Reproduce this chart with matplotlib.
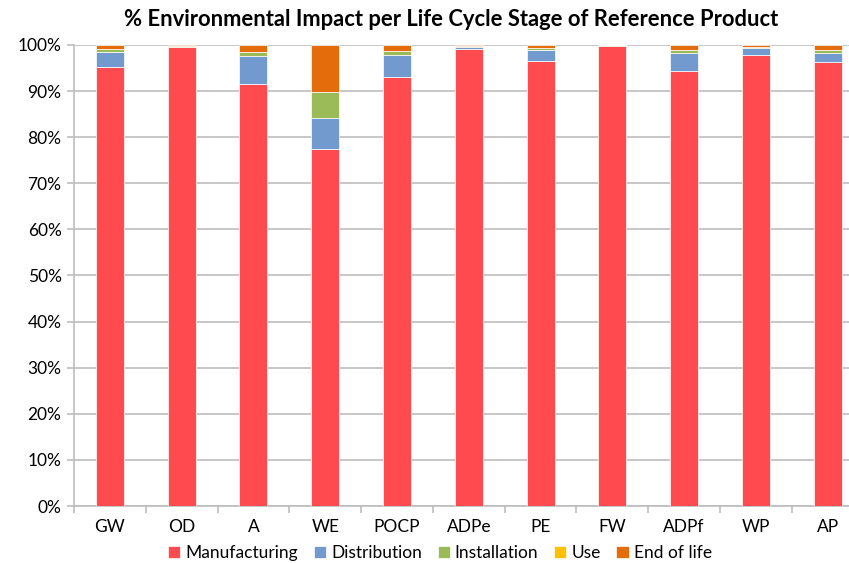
import numpy as np
import matplotlib
matplotlib.use("Agg")
import matplotlib.pyplot as plt
import matplotlib.ticker as mticker

# --- data (share of impact per life cycle stage, %) ---
categories = ["GW", "OD", "A", "WE", "POCP", "ADPe", "PE", "FW", "ADPf", "WP", "AP"]
manufacturing = [95.3, 99.5, 91.5, 77.4, 93.1, 99.1, 96.5, 99.8, 94.4, 97.8, 96.3]
distribution = [3.2, 0.1, 6.0, 6.8, 4.7, 0.4, 2.3, 0.0, 3.9, 1.6, 1.9]
installation = [0.6, 0.1, 1.0, 5.5, 0.8, 0.3, 0.5, 0.1, 0.6, 0.2, 0.6]
use = [0.1, 0.0, 0.0, 0.0, 0.0, 0.0, 0.0, 0.0, 0.1, 0.0, 0.0]
end_of_life = [0.8, 0.3, 1.5, 10.3, 1.4, 0.2, 0.7, 0.1, 1.0, 0.4, 1.2]

stages = [
    ("Manufacturing", manufacturing, "#FF4B4F"),
    ("Distribution", distribution, "#729ACF"),
    ("Installation", installation, "#9BBB59"),
    ("Use", use, "#FFC000"),
    ("End of life", end_of_life, "#E46C0A"),
]

plt.rcParams["font.family"] = ["Lato", "DejaVu Sans"]

fig = plt.figure(figsize=(8.49, 5.63), dpi=100)
ax = fig.add_axes([0.0872, 0.1012, 0.930, 0.819])

x = np.arange(len(categories))
bottom = np.zeros(len(categories))
for name, vals, color in stages:
    vals = np.array(vals)
    ax.bar(x, vals, width=0.39, bottom=bottom, color=color, label=name,
           edgecolor="white", linewidth=0.5, zorder=3)
    bottom += vals

ax.set_xlim(-0.5, len(categories) - 0.5)
ax.set_ylim(0, 100)
ax.yaxis.set_major_locator(mticker.MultipleLocator(10))
ax.yaxis.set_major_formatter(mticker.FuncFormatter(lambda v, p: f"{v:.0f}%"))
ax.grid(axis="y", color="#BDBDBD", linewidth=1.2, zorder=0)

ax.set_xticks(x)
ax.set_xticklabels(categories)
ax.set_xticks(np.arange(-0.5, len(categories)), minor=True)
ax.tick_params(axis="x", which="major", length=0, pad=9, labelsize=12.5)
ax.tick_params(axis="x", which="minor", length=5, color="#BDBDBD", width=1.2)
ax.tick_params(axis="y", length=5, color="#BDBDBD", width=1.2, labelsize=12.5, pad=4)

for side in ["top", "right"]:
    ax.spines[side].set_visible(False)
for side in ["left", "bottom"]:
    ax.spines[side].set_color("#BDBDBD")
    ax.spines[side].set_linewidth(1.2)

fig.text(451 / 849, 1 - 20 / 563, "% Environmental Impact per Life Cycle Stage of Reference Product",
         ha="center", va="center", fontsize=15.8, fontweight="bold")

fig.legend(loc="center", bbox_to_anchor=(440 / 849, 1 - 553 / 563), ncol=5, frameon=False,
           fontsize=12.5, handlelength=0.7, handleheight=0.7, handletextpad=0.3,
           columnspacing=0.9, borderaxespad=0)

fig.savefig("out.png", dpi=100)
